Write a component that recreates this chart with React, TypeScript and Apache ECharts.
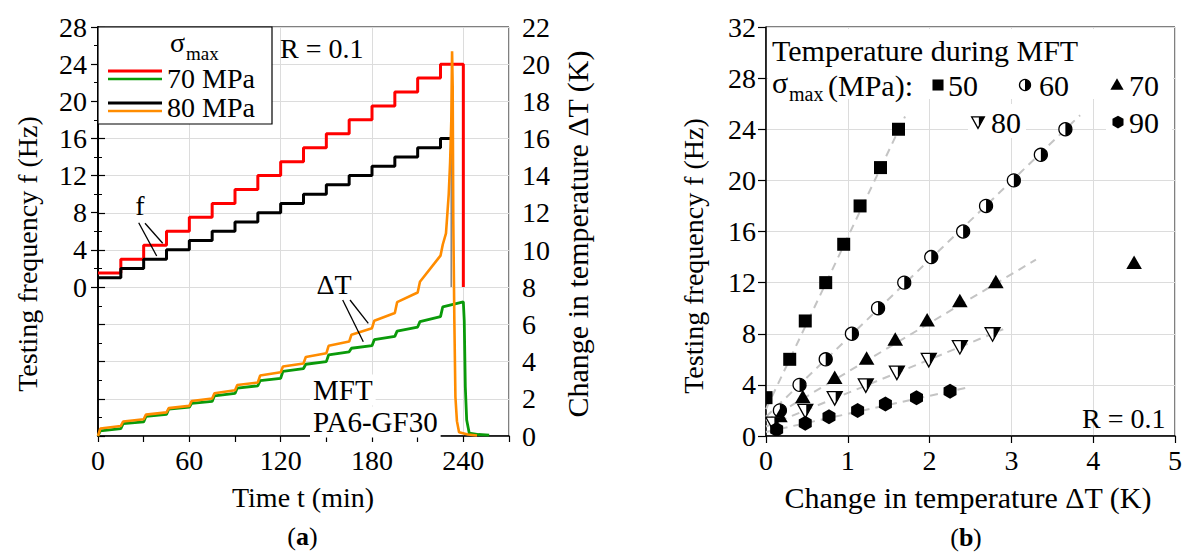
import React, { useEffect, useRef } from 'react';
import * as echarts from 'echarts';

const FONT = 'Liberation Serif';

// ---------- (a) time histories ----------
const stepTimes = [0, 15, 30, 45, 60, 75, 90, 105, 120, 135, 150, 165, 180, 195, 210, 225];
const freq70 = [1.5, 3, 4.5, 6, 7.5, 9, 10.5, 12, 13.5, 15, 16.5, 18, 19.5, 21, 22.5, 24];
const freq80 = [1, 2, 3, 4, 5, 6, 7, 8, 9, 10, 11, 12, 13, 14, 15, 16];
const stop70 = 240;
const stop80 = 232;

const dT70Start = [0.28, 0.66, 1.05, 1.45, 1.76, 2.16, 2.58, 2.98, 3.48, 3.86, 4.36, 4.72, 5.18, 5.64, 6.15, 6.95];
const dT70End = [0.4, 0.76, 1.16, 1.55, 1.86, 2.29, 2.7, 3.1, 3.63, 4.0, 4.53, 4.86, 5.36, 5.86, 6.42, 7.22];
const dT70Tail = [[240.6, 6.2], [241.3, 2.65], [242.2, 0.86], [243.9, 0.15], [250, 0.08], [257, 0.05]];

const dT80Start = [0.4, 0.78, 1.15, 1.5, 1.88, 2.3, 2.74, 3.25, 3.74, 4.25, 4.85, 5.45, 6.2, 7.2, 8.3];
const dT80End = [0.54, 0.9, 1.27, 1.62, 2.02, 2.46, 2.88, 3.43, 3.9, 4.45, 5.08, 5.8, 6.62, 7.72, 9.7];
const dT80Runaway = [
  [226.5, 10.3], [228.6, 10.9], [230.4, 13.0], [231.3, 14.7], [232.1, 17.0], [232.6, 20.7],
  [233.0, 18.8], [233.4, 11.6], [234.1, 6.2], [234.8, 2.1], [235.8, 0.8], [237.2, 0.2],
  [243, 0.08], [249, 0.03],
];

// ---------- (b) frequency vs temperature ----------
const dT50 = [0, 0.29, 0.48, 0.73, 0.95, 1.15, 1.4, 1.62];
const f50 = [3, 6, 9, 12, 15, 18, 21, 24];
const dT60 = [0.17, 0.41, 0.73, 1.05, 1.37, 1.69, 2.02, 2.41, 2.69, 3.03, 3.36, 3.66];
const f60 = [2, 4, 6, 8, 10, 12, 14, 16, 18, 20, 22, 24];
const dT70 = [0.17, 0.45, 0.84, 1.23, 1.58, 1.97, 2.37, 2.81, 4.5];
const f70 = [1.5, 3, 4.5, 6, 7.5, 9, 10.5, 12, 13.5];
const dT80 = [0.09, 0.48, 0.84, 1.22, 1.6, 1.99, 2.37, 2.77];
const f80 = [1, 2, 3, 4, 5, 6, 7, 8];
const dT90 = [0.13, 0.48, 0.77, 1.12, 1.46, 1.84, 2.25];
const f90 = [0.5, 1, 1.5, 2, 2.5, 3, 3.5];

const fit50 = [[0, 2.1], [1.7, 25.0]];
const fit60 = [[0, 1.5], [3.84, 25.1]];
const fit70 = [[0, 1.2], [3.3, 13.8]];
const fit80 = [[0, 0.74], [2.9, 8.35]];
const fit90 = [[0, 0.32], [2.48, 3.82]];

function freqSteps(vals: number[], stop: number) {
  const d: number[][] = stepTimes.map((t, i) => [t, vals[i]]);
  d.push([stop, vals[vals.length - 1]]);
  return d;
}

function tempSteps(starts: number[], ends: number[], tail: number[][]) {
  const d: number[][] = [[0, 0]];
  starts.forEach((s, i) => {
    const t = stepTimes[i];
    d.push([t + 1.5, s]);
    d.push([t + 15, ends[i]]);
  });
  return d.concat(tail);
}

function shapeAt(kind: string, x: number, y: number, k: number, z = 3): any {
  switch (kind) {
    case 'square':
      return { type: 'rect', z, shape: { x: x - 6.5 * k, y: y - 6.5 * k, width: 13 * k, height: 13 * k }, style: { fill: '#000' } };
    case 'half':
      return {
        type: 'group',
        children: [
          { type: 'circle', z, shape: { cx: x, cy: y, r: 6.5 * k }, style: { fill: '#fff', stroke: '#000', lineWidth: 1.3 } },
          { type: 'sector', z: z + 1, shape: { cx: x, cy: y, r0: 0, r: 6.5 * k, startAngle: -Math.PI / 2, endAngle: Math.PI / 2, clockwise: true }, style: { fill: '#000' } },
        ],
      };
    case 'tri':
      return { type: 'polygon', z, shape: { points: [[x, y - 8 * k], [x + 7.8 * k, y + 5.5 * k], [x - 7.8 * k, y + 5.5 * k]] }, style: { fill: '#000' } };
    case 'itri':
      return {
        type: 'group',
        children: [
          { type: 'polygon', z, shape: { points: [[x - 7.5 * k, y - 6 * k], [x + 7.5 * k, y - 6 * k], [x, y + 7.5 * k]] }, style: { fill: '#fff', stroke: '#000', lineWidth: 1.3 } },
          { type: 'polygon', z: z + 1, shape: { points: [[x + 1 * k, y - 6 * k], [x + 7.5 * k, y - 6 * k], [x + 1 * k, y + 6 * k]] }, style: { fill: '#000' } },
        ],
      };
    case 'hex': {
      const pts: number[][] = [];
      for (const a of [-90, -30, 30, 90, 150, 210]) {
        pts.push([x + 7.5 * k * Math.cos((a * Math.PI) / 180), y + 7.5 * k * Math.sin((a * Math.PI) / 180)]);
      }
      return { type: 'polygon', z, shape: { points: pts }, style: { fill: '#000' } };
    }
  }
  return null;
}

function markerSeries(xs: number[], ys: number[], kind: string) {
  return {
    type: 'custom',
    xAxisIndex: 3,
    yAxisIndex: 3,
    clip: true,
    silent: true,
    z: 4,
    data: xs.map((x, i) => [x, ys[i]]),
    encode: { x: 0, y: 1 },
    renderItem: (_p: any, api: any) => {
      const c = api.coord([api.value(0), api.value(1)]);
      return shapeAt(kind, c[0], c[1], 1);
    },
  };
}

function fitSeries(d: number[][]) {
  return {
    type: 'line',
    xAxisIndex: 3,
    yAxisIndex: 3,
    data: d,
    symbol: 'none',
    silent: true,
    z: 2,
    lineStyle: { color: '#c4c4c4', width: 2, type: [8, 6] },
  };
}

function txt(text: string, x: number, y: number, size: number, opts: any = {}): any {
  const align = opts.align || 'left';
  const v = opts.valign || 'middle';
  const style: any = {
    text,
    fontSize: size,
    fontFamily: FONT,
    fontWeight: opts.weight || 'normal',
    fill: '#000',
    align,
    verticalAlign: v,
    textAlign: align,
    textVerticalAlign: v,
  };
  if (opts.bg) {
    style.backgroundColor = opts.bg;
    style.padding = [1, 3];
  }
  return { type: 'text', x, y, z: 100, rotation: opts.rotation || 0, style };
}

function ln(x1: number, y1: number, x2: number, y2: number, color: string, w: number): any {
  return { type: 'line', z: 100, shape: { x1, y1, x2, y2 }, style: { stroke: color, lineWidth: w } };
}

const gridColor = '#dcdcdc';
const axisLine = { show: true, lineStyle: { color: '#000', width: 1.5 } };
const lbl = { color: '#000', fontSize: 28, fontFamily: FONT };

const RED = '#ff0000';
const GREEN = '#0a9a0a';
const ORANGE = '#ff8c00';

function buildOption(): any {
  const legendSym = (kind: string, x: number, y: number) => shapeAt(kind, x, y, 0.85, 101);
  return {
    animation: false,
    backgroundColor: '#fff',
    textStyle: { fontFamily: FONT },
    grid: [
      { left: 98, top: 27, width: 411, height: 409, show: true, borderColor: '#000', borderWidth: 1 },
      { left: 98, top: 27, width: 411, height: 260, show: false },
      { left: 766, top: 27, width: 409, height: 409, show: true, borderColor: '#000', borderWidth: 1 },
    ],
    xAxis: [
      {
        gridIndex: 0, type: 'value', min: 0, max: 270, interval: 30,
        axisLine, axisTick: { show: true, length: 6, lineStyle: { color: '#000', width: 1.2 } },
        axisLabel: { ...lbl, margin: 10, formatter: (v: number) => (v % 60 === 0 ? String(v) : '') },
        splitLine: { show: false },
      },
      {
        gridIndex: 0, type: 'value', min: 0, max: 270, interval: 60,
        axisLine: { show: false }, axisTick: { show: false }, axisLabel: { show: false },
        splitLine: { show: true, lineStyle: { color: gridColor, width: 1 } },
      },
      { gridIndex: 1, type: 'value', min: 0, max: 270, show: false },
      {
        gridIndex: 2, type: 'value', min: 0, max: 5, interval: 1,
        axisLine, axisTick: { show: true, length: 7, lineStyle: { color: '#000', width: 1.2 } },
        axisLabel: { ...lbl, margin: 10 },
        splitLine: { show: true, lineStyle: { color: gridColor, width: 1 } },
      },
    ],
    yAxis: [
      {
        gridIndex: 0, type: 'value', position: 'right', min: 0, max: 22, interval: 2,
        axisLine, axisTick: { show: true, length: 7, lineStyle: { color: '#000', width: 1.2 } },
        minorTick: { show: true, splitNumber: 2, length: 4, lineStyle: { color: '#000', width: 1 } },
        axisLabel: { ...lbl, margin: 13 },
        splitLine: { show: true, lineStyle: { color: gridColor, width: 1 } },
      },
      {
        gridIndex: 0, type: 'value', position: 'left', min: -16, max: 28, interval: 4,
        axisLine, axisTick: { show: false }, axisLabel: { show: false }, splitLine: { show: false },
      },
      {
        gridIndex: 1, type: 'value', position: 'left', min: 0, max: 28, interval: 4,
        axisLine, axisTick: { show: true, length: 7, lineStyle: { color: '#000', width: 1.2 } },
        minorTick: { show: true, splitNumber: 2, length: 4, lineStyle: { color: '#000', width: 1 } },
        axisLabel: { ...lbl, margin: 11 },
        splitLine: { show: false },
      },
      {
        gridIndex: 2, type: 'value', min: 0, max: 32, interval: 4,
        axisLine, axisTick: { show: true, length: 8, lineStyle: { color: '#000', width: 1.2 } },
        axisLabel: { ...lbl, margin: 10 },
        splitLine: { show: true, lineStyle: { color: gridColor, width: 1 } },
      },
    ],
    series: [
      {
        type: 'line', xAxisIndex: 2, yAxisIndex: 2, step: 'end', symbol: 'none', silent: true, z: 3,
        data: freqSteps(freq70, stop70).concat([[stop70, 0]]),
        lineStyle: { color: RED, width: 3 },
      },
      {
        type: 'line', xAxisIndex: 2, yAxisIndex: 2, step: 'end', symbol: 'none', silent: true, z: 3,
        data: freqSteps(freq80, stop80),
        lineStyle: { color: '#000', width: 3 },
      },
      {
        type: 'line', xAxisIndex: 2, yAxisIndex: 2, symbol: 'none', silent: true, z: 3,
        data: [[stop80, freq80[freq80.length - 1]], [stop80, 0]],
        lineStyle: { color: '#444', width: 1 },
      },
      {
        type: 'line', xAxisIndex: 0, yAxisIndex: 0, symbol: 'none', silent: true, z: 4,
        data: tempSteps(dT70Start, dT70End, dT70Tail),
        lineStyle: { color: GREEN, width: 2.8 },
      },
      {
        type: 'line', xAxisIndex: 0, yAxisIndex: 0, symbol: 'none', silent: true, z: 5,
        data: tempSteps(dT80Start, dT80End, dT80Runaway),
        lineStyle: { color: ORANGE, width: 2.6 },
      },
      fitSeries(fit50),
      fitSeries(fit60),
      fitSeries(fit70),
      fitSeries(fit80),
      fitSeries(fit90),
      markerSeries(dT50, f50, 'square'),
      markerSeries(dT60, f60, 'half'),
      markerSeries(dT70, f70, 'tri'),
      markerSeries(dT80, f80, 'itri'),
      markerSeries(dT90, f90, 'hex'),
    ],
    graphic: [
      // (a) legend
      { type: 'rect', z: 99, shape: { x: 98, y: 27, width: 174, height: 97 }, style: { fill: '#fff', stroke: '#000', lineWidth: 1.2 } },
      ln(108, 71, 162, 71, RED, 3),
      ln(108, 79, 162, 79, GREEN, 2.6),
      ln(108, 103, 162, 103, '#000', 3),
      ln(108, 111, 162, 111, ORANGE, 2.6),
      txt('σ', 170, 42, 28),
      txt('max', 186, 53, 19),
      txt('70 MPa', 167, 78, 28),
      txt('80 MPa', 167, 107, 28),
      txt('R = 0.1', 280, 48, 28),
      // f annotation
      txt('f', 140, 205, 28, { align: 'center' }),
      ln(138.7, 222.7, 156.7, 256, '#000', 1.3),
      ln(145, 223.3, 162.7, 243.3, '#000', 1.3),
      // dT annotation
      txt('ΔT', 334, 284, 28, { align: 'center' }),
      ln(342.7, 300, 363.3, 341.7, '#000', 1.3),
      ln(350, 300, 368.3, 323.3, '#000', 1.3),
      txt('MFT', 310, 390, 29, { bg: '#fff' }),
      txt('PA6-GF30', 310, 422, 29, { bg: '#fff' }),
      // (a) axis titles
      txt('Testing frequency f (Hz)', 27, 254, 28, { align: 'center', rotation: Math.PI / 2 }),
      txt('Change in temperature ΔT (K)', 577, 234, 30, { align: 'center', rotation: Math.PI / 2 }),
      txt('Time t (min)', 303, 497, 28, { align: 'center' }),
      txt('(', 296, 536, 26, { align: 'right' }),
      txt('a', 296, 536, 26, { weight: 'bold' }),
      txt(')', 309, 536, 26),
      // (b) legend
      { type: 'rect', z: 98, shape: { x: 768, y: 29, width: 405, height: 70 }, style: { fill: '#fff' } },
      { type: 'rect', z: 98, shape: { x: 968, y: 104, width: 58, height: 34 }, style: { fill: '#fff' } },
      { type: 'rect', z: 98, shape: { x: 1106, y: 104, width: 66, height: 34 }, style: { fill: '#fff' } },
      txt('Temperature during MFT', 772, 50, 30),
      txt('σ', 772, 82, 30),
      txt('max', 789, 94, 20),
      txt('(MPa):', 828, 85, 30),
      legendSym('square', 938, 85),
      txt('50', 948, 85, 30),
      legendSym('half', 1025, 85),
      txt('60', 1039, 85, 30),
      legendSym('tri', 1117, 85),
      txt('70', 1129, 85, 30),
      legendSym('itri', 978, 122),
      txt('80', 991, 122, 30),
      legendSym('hex', 1118, 122),
      txt('90', 1129, 122, 30),
      txt('R = 0.1', 1082, 418, 28),
      // (b) axis titles
      txt('Testing frequency f (Hz)', 693, 256, 28, { align: 'center', rotation: Math.PI / 2 }),
      txt('Change in temperature ΔT (K)', 968, 497, 30, { align: 'center' }),
      txt('(', 959, 537, 26, { align: 'right' }),
      txt('b', 959, 537, 26, { weight: 'bold' }),
      txt(')', 973, 537, 26),
    ],
  };
}

export default function App() {
  const ref = useRef<HTMLDivElement>(null);
  useEffect(() => {
    if (!ref.current) return;
    const chart = echarts.init(ref.current, null, { renderer: 'svg' });
    chart.setOption(buildOption());
    return () => chart.dispose();
  }, []);
  return <div ref={ref} style={{ position: 'fixed', left: 0, top: 0, width: 1189, height: 556, background: '#fff' }} />;
}
